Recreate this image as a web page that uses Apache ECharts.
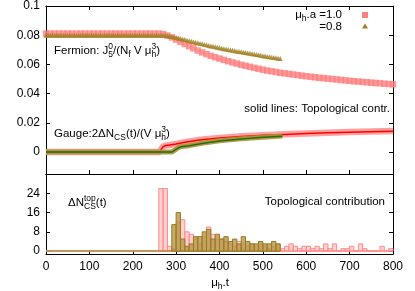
<!DOCTYPE html>
<html><head><meta charset="utf-8">
<script src="https://cdn.jsdelivr.net/npm/echarts@6/dist/echarts.min.js"></script>
<style>html,body{margin:0;padding:0;background:#fff}#c{width:415px;height:291px}</style>
</head><body><div id="c"></div>
<script>
// ---------------- data ----------------
// Fermion J5/(Nf V mu^3), mu_h a = 1.0, sampled every 10 from t = 0
const fermRedStep = 10;
const fermRed = [
0.0811,0.0811,0.0811,0.0811,0.0811,0.0811,0.0811,0.0811,0.0811,0.0811,
0.0811,0.0811,0.0811,0.0811,0.0811,0.0811,0.0811,0.0811,0.0811,0.0811,
0.0811,0.0811,0.0811,0.0811,0.0811,0.0811,0.0811,0.0808,0.0798,0.0785,
0.0770,0.0755,0.0740,0.0725,0.0710,0.0695,0.0682,0.0670,0.0659,0.0649,
0.0640,0.0631,0.0622,0.0614,0.0606,0.0598,0.0591,0.0584,0.0577,0.0570,
0.0564,0.0558,0.0553,0.0548,0.0543,0.0539,0.0535,0.0531,0.0527,0.0523,
0.0519,0.0516,0.0512,0.0509,0.0506,0.0503,0.0500,0.0497,0.0494,0.0491,
0.0488,0.0485,0.0483,0.0480,0.0478,0.0475,0.0473,0.0471,0.0468,0.0466,
0.0464];
// mu_h a = 0.8, sampled every 5 from t = 0
const fermGoldStep = 5;
const fermGold = [
0.0799,0.0799,0.0799,0.0799,0.0799,0.0799,0.0799,0.0799,0.0799,0.0799,
0.0799,0.0799,0.0799,0.0799,0.0799,0.0799,0.0799,0.0799,0.0799,0.0799,
0.0799,0.0799,0.0799,0.0799,0.0799,0.0799,0.0799,0.0799,0.0799,0.0799,
0.0799,0.0799,0.0799,0.0799,0.0799,0.0799,0.0799,0.0799,0.0799,0.0799,
0.0799,0.0799,0.0799,0.0799,0.0799,0.0799,0.0799,0.0799,0.0799,0.0799,
0.0799,0.0799,0.0799,0.0799,0.0799,0.0799,
0.0797,0.0794,0.0791,0.0788,0.0784,0.0780,0.0777,0.0773,0.0770,0.0766,
0.0762,0.0758,0.0755,0.0751,0.0748,0.0744,0.0741,0.0737,0.0734,0.0730,
0.0727,0.0724,0.0721,0.0717,0.0714,0.0711,0.0708,0.0705,0.0702,0.0699,
0.0697,0.0694,0.0691,0.0688,0.0686,0.0683,0.0681,0.0678,0.0676,0.0673,
0.0671,0.0668,0.0666,0.0663,0.0660,0.0657,0.0655,0.0652,0.0650,0.0647,
0.0645,0.0642,0.0640];
// Gauge 2 dN_CS/(V mu^3)
const gaugeRedT = [0,262,266,270,276,285,300,320,350,400,450,500,550,600,650,700,750,800];
const gaugeRed  = [0,0,0.0022,0.0038,0.0044,0.0048,0.0056,0.0068,0.0082,0.0097,0.0108,0.0116,0.0122,0.0128,0.0133,0.0137,0.0141,0.0144];
const topoRed   = [0,0,0.0020,0.0037,0.0045,0.0049,0.0056,0.0067,0.0081,0.0096,0.0107,0.0115,0.0121,0.0127,0.0132,0.0136,0.0140,0.0143];
const gaugeGoldT = [0,290,296,305,312,330,360,400,450,500,545];
const gaugeGold  = [0,0,0.0012,0.0030,0.0038,0.0044,0.0060,0.0077,0.0091,0.0102,0.0110];
const topoGold   = [0,0,0.0011,0.0029,0.0037,0.0043,0.0059,0.0076,0.0090,0.0101,0.0109];
// Histogram of topological contribution dN_CS^top(t)
const binWidth = 10;
const histRedStart = 260;
const histRed = [26,26,2,1,12,13,8,7,5,3,6,10,7,5,5,4,3,2,4,3,2,3,2,3,2,1,2,3,1,2,3,2,1,2,2,1,2,1,3,1,3,0,1,1,2,0,3,1,0,0,0,2,0,1];
const histGoldStart = 290;
const histGold = [11,16,5,2,3,6,6,8,9,5,7,5,6,4,5,3,6,4,3,3,4,3,3,4,3];
const histRedRange = [0,800];
const histGoldRange = [0,540];
// ticks
const xTicks = [0,100,200,300,400,500,600,700,800];
const yTopTicks = [0,0.02,0.04,0.06,0.08,0.1];
const yBotTicks = [0,8,16,24];

// ---------------- helpers ----------------
const FONT = 'Liberation Sans';
const cv = document.createElement('canvas').getContext('2d');
function tw(s, size){ cv.font = size + 'px "' + FONT + '"'; return cv.measureText(s).width; }
function mtext(x, y, parts, align){
  const N = 11.5, S = 8.5;
  const items = []; let cx = 0;
  parts.forEach(p => {
    if (typeof p === 'string'){ items.push({t:p, x:cx, dy:0, size:N}); cx += tw(p, N); }
    else {
      let w = 0;
      if (p.sup != null){ items.push({t:p.sup, x:cx, dy:-4.5, size:S}); w = Math.max(w, tw(p.sup, S)); }
      if (p.sub != null){ items.push({t:p.sub, x:cx, dy:3.5, size:S}); w = Math.max(w, tw(p.sub, S)); }
      cx += w;
    }
  });
  const off = align === 'right' ? -cx : (align === 'center' ? -cx/2 : 0);
  return items.map(it => ({type:'text', x:x+off+it.x, y:y+it.dy, silent:true,
    style:{text:it.t, fontSize:it.size, fontFamily:FONT, fill:'#000', align:'left', verticalAlign:'middle'}}));
}
function binRender(fill, stroke){
  return function(params, api){
    const t = api.value(0), h = api.value(1);
    const p0 = api.coord([t, 0]), p1 = api.coord([t + binWidth, h]);
    return {type:'rect', shape:{x:p0[0], y:p1[1], width:p1[0]-p0[0], height:p0[1]-p1[1]},
      style:{fill:fill, stroke:stroke, lineWidth:1}};
  };
}

const fermRedData = fermRed.map((v,i) => [i*fermRedStep, v]);
const fermGoldData = fermGold.map((v,i) => [i*fermGoldStep, v]);
const pair = (ts, vs) => ts.map((t,i) => [t, vs[i]]);
const histRedData = histRed.map((h,i) => [histRedStart + i*binWidth, h]);
const histGoldData = histGold.map((h,i) => [histGoldStart + i*binWidth, h]);

const axLine = {show:true, onZero:false, lineStyle:{color:'#000', width:1}};
const tick = (vals) => ({show:true, inside:true, length:4, customValues:vals, lineStyle:{color:'#000', width:1}});
const lab = {color:'#000', fontSize:12, fontFamily:FONT};

const L = 46, W = 347;
const option = {
  animation:false,
  backgroundColor:'#fff',
  grid:[
    {left:L, top:6, width:W, height:168},
    {left:L, top:174, width:W, height:80}
  ],
  xAxis:[
    {type:'value', gridIndex:0, min:0, max:800, position:'bottom', axisLine:axLine, axisTick:tick(xTicks), axisLabel:{show:false}, splitLine:{show:false}},
    {type:'value', gridIndex:0, min:0, max:800, position:'top', axisLine:axLine, axisTick:tick(xTicks), axisLabel:{show:false}, splitLine:{show:false}},
    {type:'value', gridIndex:1, min:0, max:800, position:'bottom', axisLine:axLine, axisTick:tick(xTicks),
      axisLabel:Object.assign({customValues:xTicks, margin:7}, lab), splitLine:{show:false}},
    {type:'value', gridIndex:1, min:0, max:800, position:'top', axisLine:axLine, axisTick:{show:false}, axisLabel:{show:false}, splitLine:{show:false}}
  ],
  yAxis:[
    {type:'value', gridIndex:0, min:-0.015, max:0.1, position:'left', axisLine:axLine, axisTick:tick(yTopTicks),
      axisLabel:Object.assign({customValues:yTopTicks, margin:6}, lab), splitLine:{show:false}},
    {type:'value', gridIndex:0, min:-0.015, max:0.1, position:'right', axisLine:axLine, axisTick:tick(yTopTicks), axisLabel:{show:false}, splitLine:{show:false}},
    {type:'value', gridIndex:1, min:-1.2, max:32, position:'left', axisLine:axLine, axisTick:tick(yBotTicks),
      axisLabel:Object.assign({customValues:yBotTicks, margin:6}, lab), splitLine:{show:false}},
    {type:'value', gridIndex:1, min:-1.2, max:32, position:'right', axisLine:axLine, axisTick:tick(yBotTicks), axisLabel:{show:false}, splitLine:{show:false}}
  ],
  series:[
    {type:'scatter', xAxisIndex:0, yAxisIndex:0, symbol:'rect', symbolSize:6.5, itemStyle:{color:'#ff8080'}, data:fermRedData, z:3},
    {type:'scatter', xAxisIndex:0, yAxisIndex:0, symbol:'triangle', symbolSize:5, itemStyle:{color:'#a08020'}, data:fermGoldData, z:4},
    {type:'line', xAxisIndex:0, yAxisIndex:0, showSymbol:false, lineStyle:{color:'rgba(255,120,120,0.7)', width:6.5}, data:pair(gaugeRedT, gaugeRed), z:3},
    {type:'line', xAxisIndex:0, yAxisIndex:0, showSymbol:false, lineStyle:{color:'#ff0000', width:1.5}, data:pair(gaugeRedT, topoRed), z:4},
    {type:'line', xAxisIndex:0, yAxisIndex:0, showSymbol:false, lineStyle:{color:'rgba(175,145,45,0.9)', width:5}, data:pair(gaugeGoldT, gaugeGold), z:5},
    {type:'line', xAxisIndex:0, yAxisIndex:0, showSymbol:false, lineStyle:{color:'#1e6e1e', width:1.5}, data:pair(gaugeGoldT, topoGold), z:6},
    {type:'line', xAxisIndex:2, yAxisIndex:2, showSymbol:false, lineStyle:{color:'#ff9090', width:1.5}, data:histRedRange.map(t => [t, 0]), z:2},
    {type:'custom', xAxisIndex:2, yAxisIndex:2, renderItem:binRender('rgba(255,170,170,0.55)', '#ff8c8c'), data:histRedData, z:3},
    {type:'line', xAxisIndex:2, yAxisIndex:2, showSymbol:false, lineStyle:{color:'#b09040', width:1.5}, data:histGoldRange.map(t => [t, 0]), z:4},
    {type:'custom', xAxisIndex:2, yAxisIndex:2, renderItem:binRender('rgba(180,150,70,0.8)', '#9a7a20'), data:histGoldData, z:5}
  ],
  graphic:{elements:[].concat(
    mtext(54, 51, ['Fermion: J', {sup:'0', sub:'5'}, '/(N', {sub:'f'}, ' V μ', {sup:'3', sub:'h'}, ')']),
    mtext(54, 134, ['Gauge:2ΔN', {sub:'CS'}, '(t)/(V μ', {sup:'3', sub:'h'}, ')']),
    mtext(390, 109, ['solid lines: Topological contr.'], 'right'),
    mtext(342, 15, ['μ', {sub:'h'}, '.a =1.0'], 'right'),
    mtext(342, 27, ['=0.8'], 'right'),
    mtext(68, 203, ['ΔN', {sup:'top', sub:'CS'}, '(t)']),
    mtext(385, 202, ['Topological contribution'], 'right'),
    mtext(220, 283, ['μ', {sub:'h'}, '.t'], 'center'),
    [
      {type:'rect', shape:{x:362, y:12, width:6, height:6}, style:{fill:'#ff8080'}, silent:true},
      {type:'polygon', shape:{points:[[365,23.5],[368,28.5],[362,28.5]]}, style:{fill:'#a08020'}, silent:true}
    ]
  )}
};
const chart = echarts.init(document.getElementById('c'), null, {renderer:'canvas'});
chart.setOption(option);
</script></body></html>
